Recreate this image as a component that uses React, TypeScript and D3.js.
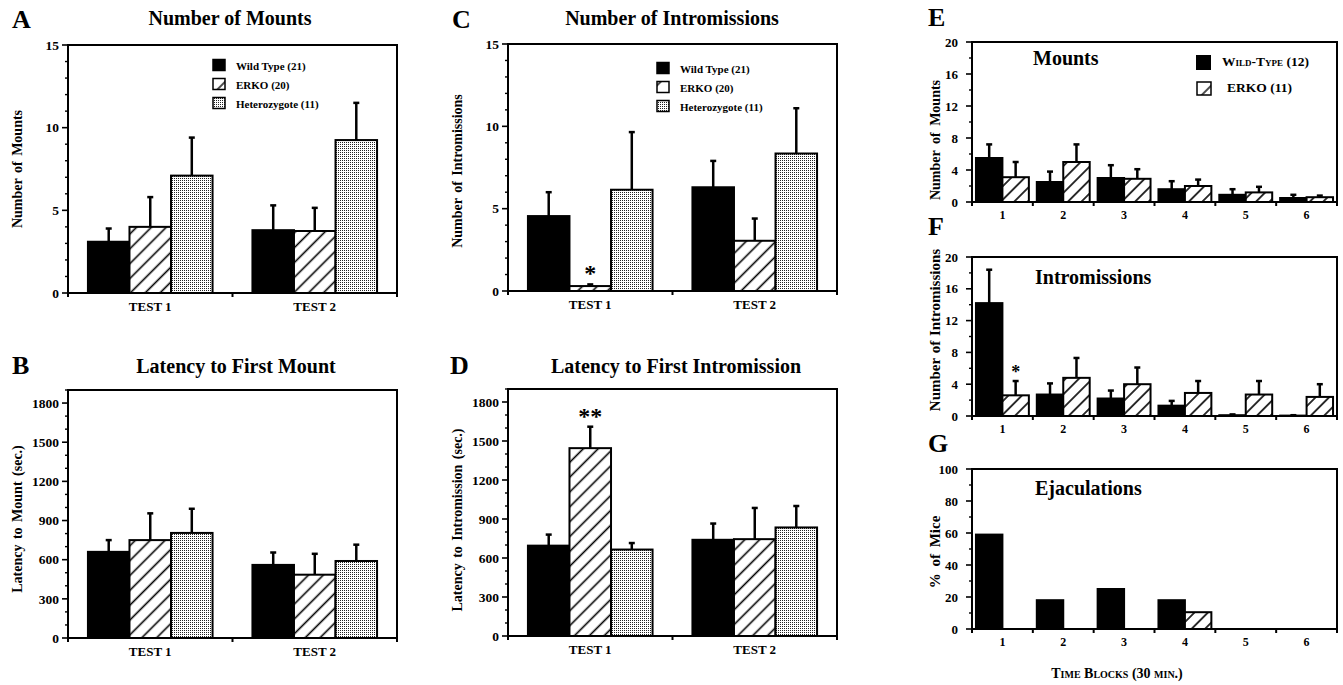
import React from 'react';
import * as d3 from 'd3';

// ---------- DATA ----------
const testLabels = ["TEST 1", "TEST 2"];
const genotypeLabels = ["Wild Type (21)", "ERKO (20)", "Heterozygote (11)"];

const mountsWT = [3.1, 3.8];
const mountsWTSem = [0.8, 1.5];
const mountsERKO = [4.0, 3.75];
const mountsERKOSem = [1.8, 1.4];
const mountsHet = [7.1, 9.25];
const mountsHetSem = [2.3, 2.25];

const introWT = [4.55, 6.3];
const introWTSem = [1.45, 1.6];
const introERKO = [0.3, 3.05];
const introERKOSem = [0.1, 1.35];
const introHet = [6.15, 8.35];
const introHetSem = [3.5, 2.75];

const latMountWT = [660, 560];
const latMountWTSem = [90, 95];
const latMountERKO = [750, 485];
const latMountERKOSem = [205, 160];
const latMountHet = [805, 590];
const latMountHetSem = [185, 125];

const latIntroWT = [695, 740];
const latIntroWTSem = [85, 125];
const latIntroERKO = [1445, 745];
const latIntroERKOSem = [165, 240];
const latIntroHet = [665, 835];
const latIntroHetSem = [50, 165];

const timeBlocks = ["1", "2", "3", "4", "5", "6"];
const blockLegend = ["Wild-Type (12)", "ERKO (11)"];

const blkMountsWT = [5.5, 2.5, 3.0, 1.6, 0.9, 0.5];
const blkMountsWTSem = [1.7, 1.3, 1.6, 1.0, 0.7, 0.4];
const blkMountsERKO = [3.1, 5.0, 2.9, 2.0, 1.2, 0.6];
const blkMountsERKOSem = [1.9, 2.2, 1.2, 0.8, 0.7, 0.2];

const blkIntroWT = [14.2, 2.7, 2.2, 1.3, 0.1, 0.05];
const blkIntroWTSem = [4.2, 1.4, 1.0, 0.6, 0.1, 0.05];
const blkIntroERKO = [2.6, 4.8, 4.0, 2.9, 2.7, 2.4];
const blkIntroERKOSem = [1.8, 2.5, 2.1, 1.5, 1.7, 1.6];

const blkEjacWT = [59, 18, 25, 18, 0, 0];
const blkEjacERKO = [0, 0, 0, 10.5, 0, 0];

// ---------- DRAWING ----------
const FONT = "Liberation Serif, Times New Roman, DejaVu Serif, serif";

type Series = { values: number[]; errs?: number[]; fill: string };

type PanelProps = {
  x0: number; x1: number; yTop: number; yBottom: number;
  max: number; major: number; minor: number;
  cats: string[]; series: Series[]; groupPad: number;
  tickFont: number; labelOffset: number; xFont: number; xLabelDy: number;
  marks?: { cat: number; ser: number; text: string; size: number }[];
};

function Panel(p: PanelProps) {
  const x = d3.scaleBand().domain(p.cats).range([p.x0, p.x1]).padding(0);
  const inner = d3.scaleBand<string>()
    .domain(p.series.map((_, i) => String(i)))
    .range([0, x.bandwidth()])
    .paddingInner(0)
    .paddingOuter(p.groupPad);
  const y = d3.scaleLinear().domain([0, p.max]).range([p.yBottom, p.yTop]);
  const majors = d3.range(0, p.max + 1e-9, p.major);
  const minors = d3.range(0, p.max + 1e-9, p.minor).filter(
    (v) => Math.abs(v / p.major - Math.round(v / p.major)) > 1e-6
  );
  const bw = inner.bandwidth();
  const boundaries = d3.range(0, p.cats.length + 1).map((i) => p.x0 + i * x.step());

  return (
    <g>
      {p.series.map((s, si) =>
        s.values.map((v, ci) => {
          if (v <= 0) return null;
          const bx = (x(p.cats[ci]) as number) + (inner(String(si)) as number);
          return (
            <rect key={`b${si}-${ci}`} x={bx} y={y(v)} width={bw} height={p.yBottom - y(v)}
              fill={s.fill} stroke="#000" strokeWidth={2} />
          );
        })
      )}
      {p.series.map((s, si) =>
        s.errs ? s.values.map((v, ci) => {
          const e = s.errs![ci];
          if (!(e > 0) || v <= 0) return null;
          const cx = (x(p.cats[ci]) as number) + (inner(String(si)) as number) + bw / 2;
          return (
            <g key={`e${si}-${ci}`}>
              <line x1={cx} x2={cx} y1={y(v)} y2={y(v + e)} stroke="#000" strokeWidth={2.5} />
              <line x1={cx - 3} x2={cx + 3} y1={y(v + e)} y2={y(v + e)} stroke="#000" strokeWidth={2.5} />
            </g>
          );
        }) : null
      )}
      {(p.marks || []).map((m, i) => {
        const s = p.series[m.ser];
        const top = s.values[m.cat] + (s.errs ? s.errs[m.cat] : 0);
        const cx = (x(p.cats[m.cat]) as number) + (inner(String(m.ser)) as number) + bw / 2;
        return (
          <text key={`m${i}`} x={cx} y={y(top) - 3} textAnchor="middle" fontFamily={FONT}
            fontWeight="bold" fontSize={m.size}>{m.text}</text>
        );
      })}
      <rect x={p.x0} y={p.yTop} width={p.x1 - p.x0} height={p.yBottom - p.yTop}
        fill="none" stroke="#000" strokeWidth={2} />
      {majors.map((v) => (
        <g key={`t${v}`}>
          <line x1={p.x0 - 6} x2={p.x0} y1={y(v)} y2={y(v)} stroke="#000" strokeWidth={1.6} />
          <text x={p.x0 - p.labelOffset} y={y(v)} dy="0.35em" textAnchor="end" fontFamily={FONT}
            fontWeight="bold" fontSize={p.tickFont}>{v}</text>
        </g>
      ))}
      {minors.map((v) => (
        <line key={`mn${v}`} x1={p.x0 - 3} x2={p.x0} y1={y(v)} y2={y(v)} stroke="#000" strokeWidth={1.4} />
      ))}
      {boundaries.map((bx, i) => (
        <line key={`xb${i}`} x1={bx} x2={bx} y1={p.yBottom} y2={p.yBottom + 4} stroke="#000" strokeWidth={2} />
      ))}
      {p.cats.map((c) => (
        <text key={`xl${c}`} x={(x(c) as number) + x.bandwidth() / 2} y={p.yBottom + p.xLabelDy}
          textAnchor="middle" fontFamily={FONT} fontWeight="bold" fontSize={p.xFont}>{c}</text>
      ))}
    </g>
  );
}

function Txt(props: any) {
  const { children, ...rest } = props;
  return <text fontFamily={FONT} fontWeight="bold" {...rest}>{children}</text>;
}

function YLabel({ x, y, size, text, ws = 2 }: { x: number; y: number; size: number; text: string; ws?: number }) {
  return (
    <text transform={`translate(${x},${y}) rotate(-90)`} textAnchor="middle" fontFamily={FONT}
      fontWeight="bold" fontSize={size} style={{ wordSpacing: `${ws}px` }}>{text}</text>
  );
}

function Legend3({ x, y0 }: { x: number; y0: number }) {
  const fills = ["#000", "url(#hatchL)", "url(#dots)"];
  return (
    <g>
      {genotypeLabels.map((l, i) => (
        <g key={l}>
          <rect x={x} y={y0 + i * 19 - 5.5} width={12} height={11} fill={fills[i]} stroke="#000" strokeWidth={1.5} />
          <Txt x={x + 23} y={y0 + i * 19 + 4.5} fontSize={11}>{l}</Txt>
        </g>
      ))}
    </g>
  );
}

export default function App() {
  const W = 1343, H = 685;
  const sAD = (a: number[], ae: number[], b: number[], be: number[], c: number[], ce: number[]): Series[] => [
    { values: a, errs: ae, fill: "#000" },
    { values: b, errs: be, fill: "url(#hatch)" },
    { values: c, errs: ce, fill: "url(#dots)" },
  ];
  const commonAD = {
    cats: testLabels, groupPad: 0.48, tickFont: 13.5, labelOffset: 9, xFont: 13, xLabelDy: 18,
  };
  const commonEG = {
    x0: 972, x1: 1337, cats: timeBlocks, groupPad: 0.15, tickFont: 13, labelOffset: 14, xFont: 12, xLabelDy: 17,
  };
  return (
    <svg width={W} height={H} style={{ position: 'absolute', left: 0, top: 0, background: '#fff' }}>
      <defs>
        <pattern id="hatch" patternUnits="userSpaceOnUse" width={10.5} height={10.5} patternTransform="rotate(45)">
          <rect width={10.5} height={10.5} fill="#fff" />
          <line x1={5.25} y1={0} x2={5.25} y2={10.5} stroke="#000" strokeWidth={1.6} />
        </pattern>
        <pattern id="hatchS" patternUnits="userSpaceOnUse" width={9.5} height={9.5} patternTransform="rotate(45)">
          <rect width={9.5} height={9.5} fill="#fff" />
          <line x1={4.75} y1={0} x2={4.75} y2={9.5} stroke="#000" strokeWidth={1.6} />
        </pattern>
        <pattern id="hatchL" patternUnits="userSpaceOnUse" width={14} height={14} patternTransform="rotate(45)">
          <rect width={14} height={14} fill="#fff" />
          <line x1={7} y1={0} x2={7} y2={14} stroke="#000" strokeWidth={1.4} />
        </pattern>
        <pattern id="dots" patternUnits="userSpaceOnUse" width={2} height={2}>
          <rect width={2} height={2} fill="#fff" />
          <rect width={1} height={1} fill="#222" />
        </pattern>
      </defs>

      {/* Panel A */}
      <Txt x={12} y={28} fontSize={26}>A</Txt>
      <Txt x={230} y={25} fontSize={20} textAnchor="middle">Number of Mounts</Txt>
      <YLabel x={22} y={169} size={14} text="Number of Mounts" />
      <Panel {...commonAD} x0={68} x1={397} yTop={45} yBottom={293} max={15} major={5} minor={1}
        series={sAD(mountsWT, mountsWTSem, mountsERKO, mountsERKOSem, mountsHet, mountsHetSem)} />
      <Legend3 x={213} y0={65} />

      {/* Panel B */}
      <Txt x={12} y={374} fontSize={26}>B</Txt>
      <Txt x={236} y={373} fontSize={20} textAnchor="middle">Latency to First Mount</Txt>
      <YLabel x={22} y={519} size={14} text="Latency to Mount (sec.)" />
      <Panel {...commonAD} x0={68} x1={397} yTop={390} yBottom={638} max={1900} major={300} minor={100}
        series={sAD(latMountWT, latMountWTSem, latMountERKO, latMountERKOSem, latMountHet, latMountHetSem)} />

      {/* Panel C */}
      <Txt x={452} y={28} fontSize={26}>C</Txt>
      <Txt x={672} y={25} fontSize={20} textAnchor="middle">Number of Intromissions</Txt>
      <YLabel x={462} y={171} size={14} text="Number of Intromissions" />
      <Panel {...commonAD} x0={508} x1={837} yTop={44} yBottom={291} max={15} major={5} minor={1}
        series={sAD(introWT, introWTSem, introERKO, introERKOSem, introHet, introHetSem)}
        marks={[{ cat: 0, ser: 1, text: "*", size: 24 }]} />
      <Legend3 x={657} y0={68} />

      {/* Panel D */}
      <Txt x={450} y={374} fontSize={26}>D</Txt>
      <Txt x={676} y={373} fontSize={20} textAnchor="middle">Latency to First Intromission</Txt>
      <YLabel x={462} y={520} size={14} text="Latency to Intromission (sec.)" />
      <Panel {...commonAD} x0={508} x1={837} yTop={389} yBottom={636} max={1900} major={300} minor={100}
        series={sAD(latIntroWT, latIntroWTSem, latIntroERKO, latIntroERKOSem, latIntroHet, latIntroHetSem)}
        marks={[{ cat: 0, ser: 1, text: "**", size: 24 }]} />

      {/* Panel E */}
      <Txt x={928} y={26} fontSize={26}>E</Txt>
      <YLabel x={940} y={140} size={14} text="Number of Mounts" ws={3} />
      <Panel {...commonEG} yTop={42} yBottom={202} max={20} major={4} minor={2}
        series={[
          { values: blkMountsWT, errs: blkMountsWTSem, fill: "#000" },
          { values: blkMountsERKO, errs: blkMountsERKOSem, fill: "url(#hatchS)" },
        ]} />
      <Txt x={1033} y={65} fontSize={20}>Mounts</Txt>
      <rect x={1196} y={55} width={15} height={15} fill="#000" />
      <Txt x={1222} y={66} fontSize={13.5} style={{ fontVariant: 'small-caps' }}>{blockLegend[0]}</Txt>
      <rect x={1197} y={82} width={14} height={13} fill="url(#hatchL)" stroke="#000" strokeWidth={1.5} />
      <Txt x={1227} y={92} fontSize={13.5}>{blockLegend[1]}</Txt>

      {/* Panel F */}
      <Txt x={928} y={235} fontSize={26}>F</Txt>
      <YLabel x={940} y={330} size={15} text="Number of Intromissions" ws={1} />
      <Panel {...commonEG} yTop={257} yBottom={416} max={20} major={4} minor={2}
        series={[
          { values: blkIntroWT, errs: blkIntroWTSem, fill: "#000" },
          { values: blkIntroERKO, errs: blkIntroERKOSem, fill: "url(#hatchS)" },
        ]}
        marks={[{ cat: 0, ser: 1, text: "*", size: 18 }]} />
      <Txt x={1035} y={284} fontSize={20}>Intromissions</Txt>

      {/* Panel G */}
      <Txt x={928} y={452} fontSize={26}>G</Txt>
      <YLabel x={940} y={552} size={15} text="% of Mice" ws={3} />
      <Panel {...commonEG} yTop={469} yBottom={629} max={100} major={20} minor={10}
        series={[
          { values: blkEjacWT, fill: "#000" },
          { values: blkEjacERKO, fill: "url(#hatchS)" },
        ]} />
      <Txt x={1035} y={495} fontSize={20}>Ejaculations</Txt>
      <Txt x={1117} y={678} fontSize={14} textAnchor="middle" style={{ fontVariant: 'small-caps' }}>Time Blocks (30 min.)</Txt>
    </svg>
  );
}
